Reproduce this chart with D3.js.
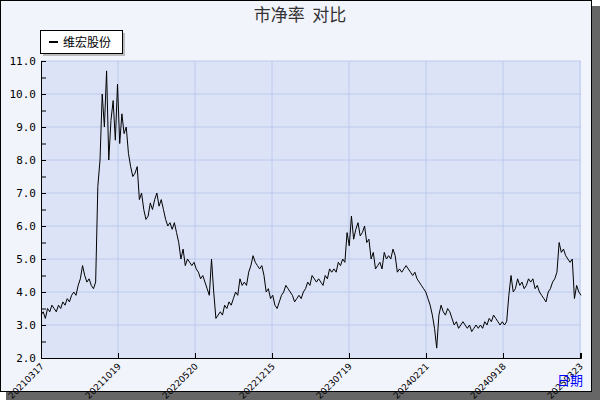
<!DOCTYPE html>
<html><head><meta charset="utf-8">
<script src="https://cdn.jsdelivr.net/npm/d3@7"></script>
<style>body{margin:0;background:#fff}</style></head>
<body><svg id="c" width="600" height="400"></svg>
<script>
const seriesName = "维宏股份";
const tickLabels = ["20210317","20211019","20220520","20221215","20230719","20240221","20240918","20250323"];
const yTicks = [2,3,4,5,6,7,8,9,10,11];
const values = [
3.3,3.4,3.2,3.5,3.4,3.6,3.5,3.4,3.6,3.5,3.7,3.6,3.8,3.7,3.9,4.0,3.9,4.2,4.4,4.8,4.5,4.3,4.4,4.2,4.1,4.3,
7.2,8.0,10.0,9.0,10.7,8.0,9.2,9.8,8.6,10.3,8.5,9.4,8.8,9.0,8.2,7.8,7.5,7.6,7.8,6.8,7.0,6.5,6.2,6.3,6.7,6.5,6.8,7.0,6.6,6.8,6.5,6.2,6.0,6.1,5.9,6.1,5.8,5.5,5.0,5.3,4.8,5.0,4.9,4.8,4.9,4.7,4.6,4.4,4.5,4.3,4.1,3.9,5.0,4.0,3.2,3.3,3.4,3.3,3.6,3.5,3.7,3.6,3.8,4.0,3.9,4.4,4.2,4.3,4.2,4.6,4.8,5.1,4.9,4.8,4.7,4.8,4.5,4.0,4.1,3.8,3.9,3.6,3.5,3.7,3.9,4.0,4.2,4.1,4.0,3.9,3.7,3.8,3.9,3.8,4.0,4.1,4.3,4.2,4.5,4.4,4.3,4.4,4.3,4.2,4.5,4.4,4.7,4.6,4.7,4.6,4.9,4.8,5.0,4.9,5.8,5.4,6.3,5.6,5.9,6.1,5.7,5.8,6.0,5.5,5.6,5.0,5.2,4.7,4.8,4.9,4.7,5.2,5.0,5.1,5.0,5.3,5.1,4.6,4.7,4.6,4.7,4.8,4.7,4.6,4.5,4.6,4.4,4.3,4.2,4.1,4.0,3.8,3.6,3.3,2.9,2.3,3.3,3.6,3.4,3.3,3.5,3.4,3.2,3.0,3.1,2.9,3.0,3.1,3.0,2.9,3.0,2.8,2.9,3.0,2.9,3.0,2.9,3.1,3.0,3.2,3.1,3.3,3.2,3.1,3.0,3.1,3.0,3.1,3.9,4.5,4.0,4.1,4.4,4.2,4.3,4.1,4.2,4.4,4.3,4.4,4.1,4.2,4.0,3.9,3.8,3.7,4.0,4.1,4.3,4.4,4.6,5.5,5.2,5.3,5.1,5.0,4.9,5.0,3.8,4.2,4.0,3.9
];

const svg = d3.select("#c");
const L = 41, R = 581, T = 61, B = 358;

// frame + shadow
svg.append("rect").attr("x", 6).attr("y", 6).attr("width", 594).attr("height", 394).attr("fill", "#666");
svg.append("rect").attr("x", 0.5).attr("y", 0.5).attr("width", 591).attr("height", 391)
    .attr("fill", "#f2f4fc").attr("stroke", "#000");

svg.append("text").attr("x", 300).attr("y", 21).attr("text-anchor", "middle")
    .attr("font-family", "Noto Sans CJK SC").attr("font-size", 17).attr("fill", "#333")
    .style("white-space", "pre")
    .text("市净率  对比");

const x = d3.scaleLinear().domain([0, values.length - 1]).range([L, R]);
const y = d3.scaleLinear().domain([2, 11]).range([B, T]);
const step = (values.length - 1) * 77 / 540;
const tickIdx = tickLabels.map((d, i) => i * step);

svg.append("rect").attr("x", L).attr("y", T).attr("width", R - L).attr("height", B - T).attr("fill", "#dce3f6");

const g = svg.append("g");
g.selectAll(".vg").data(tickIdx.slice(1)).join("line")
    .attr("x1", d => x(d)).attr("x2", d => x(d)).attr("y1", T).attr("y2", B)
    .attr("stroke", "#bccaee");
g.selectAll(".hg").data(yTicks.slice(1)).join("line")
    .attr("x1", L).attr("x2", R).attr("y1", d => y(d)).attr("y2", d => y(d))
    .attr("stroke", "#bccaee");

const yAxis = svg.append("g").attr("transform", `translate(${L},0)`)
    .call(d3.axisLeft(y).tickValues(d3.range(2, 11.01, 0.5)).tickSize(0)
        .tickFormat(d => Number.isInteger(d) ? d.toFixed(1) : ""));
yAxis.select(".domain").attr("stroke", "#000");
yAxis.selectAll(".tick line").attr("stroke", "#000").attr("x1", 0).attr("x2", 5);
yAxis.selectAll(".tick text").attr("x", -5).attr("font-family", "DejaVu Sans Mono").attr("font-size", 11).attr("fill", "#000");

const xAxis = svg.append("g").attr("transform", `translate(0,${B})`)
    .call(d3.axisBottom(x).tickValues(tickIdx).tickSize(-5).tickFormat((d, i) => tickLabels[i]));
xAxis.select(".domain").attr("stroke", "#000");
xAxis.selectAll(".tick line").attr("stroke", "#000");
xAxis.selectAll(".tick text").attr("font-family", "DejaVu Sans").attr("font-size", 9).attr("fill", "#000")
    .attr("text-anchor", "end").attr("dy", 0).attr("y", 0)
    .attr("transform", "translate(3,9) rotate(-45)");

svg.append("path").datum(values)
    .attr("d", d3.line().x((d, i) => x(i)).y(d => y(d)))
    .attr("fill", "none").attr("stroke", "#000").attr("stroke-width", 1);

svg.append("text").attr("x", 557).attr("y", 385).attr("font-family", "Noto Sans CJK SC")
    .attr("font-size", 13).attr("fill", "#00f").text("日期");

// legend
svg.append("rect").attr("x", 43).attr("y", 33).attr("width", 82).attr("height", 23).attr("fill", "#bbb");
svg.append("rect").attr("x", 40.5).attr("y", 30.5).attr("width", 82).attr("height", 23).attr("fill", "#fff").attr("stroke", "#000");
svg.append("line").attr("x1", 49).attr("x2", 58).attr("y1", 42).attr("y2", 42).attr("stroke", "#000").attr("stroke-width", 2);
svg.append("text").attr("x", 63).attr("y", 47).attr("font-family", "Noto Sans CJK SC").attr("font-size", 12).text(seriesName);
</script></body></html>
